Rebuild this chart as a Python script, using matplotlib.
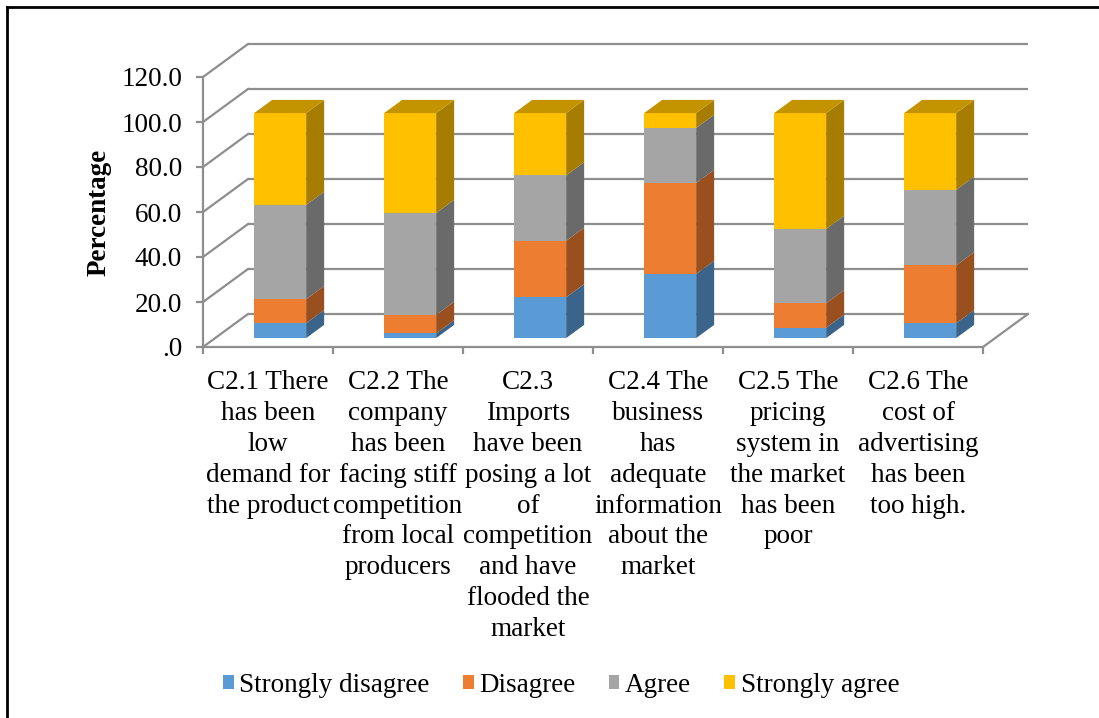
import numpy as np
import matplotlib
matplotlib.use("Agg")
import matplotlib.pyplot as plt
from matplotlib.patches import Polygon, Patch
from matplotlib.lines import Line2D

# ---- data -------------------------------------------------------------
categories = [
    "C2.1 There\nhas been\nlow\ndemand for\nthe product",
    "C2.2 The\ncompany\nhas been\nfacing stiff\ncompetition\nfrom local\nproducers",
    "C2.3\nImports\nhave been\nposing a lot\nof\ncompetition\nand have\nflooded the\nmarket",
    "C2.4 The\nbusiness\nhas\nadequate\ninformation\nabout the\nmarket",
    "C2.5 The\npricing\nsystem in\nthe market\nhas been\npoor",
    "C2.6 The\ncost of\nadvertising\nhas been\ntoo high.",
]
series_names = ["Strongly disagree", "Disagree", "Agree", "Strongly agree"]
strongly_disagree = [6.6, 2.1, 18.1, 28.5, 4.6, 6.6]
disagree = [10.7, 8.2, 25.1, 40.4, 10.9, 25.7]
agree = [41.9, 45.3, 29.1, 24.5, 33.0, 33.6]
strongly_agree = [40.8, 44.4, 27.7, 6.6, 51.5, 34.1]
y_ticks = [0, 20, 40, 60, 80, 100, 120]
y_tick_labels = [".0", "20.0", "40.0", "60.0", "80.0", "100.0", "120.0"]
y_label = "Percentage"

# ---- style ------------------------------------------------------------
front_colors = ["#5B9BD5", "#ED7D31", "#A5A5A5", "#FFC000"]
side_colors = ["#3A6489", "#9A4F1F", "#6A6A6A", "#A67D00"]
top_colors = ["#4A80B0", "#C2662A", "#8A8A8A", "#C49300"]
grid_color = "#8E8E8E"
grid_lw = 1.6
FS = 19.5

plt.rcParams["font.family"] = ["Liberation Serif", "DejaVu Serif"]

W, H = 1099, 718
fig = plt.figure(figsize=(W / 100, H / 100), dpi=100)
fig.patch.set_facecolor("white")

n = len(categories)
ax = fig.add_axes([203 / W, (H - 347) / H, 780 / W, 270 / H])
ax.set_xlim(0, n)
ax.set_ylim(0, 120)
ax.set_facecolor("none")

# oblique projection of the depth axis (category units, percent units)
DX = 45 / 130
DY = 33 / 2.25
ZF = 0.27   # depth of the bar front faces
ZD = 0.40   # depth of the bars
BW = 0.40   # bar width

# back wall gridlines and left wall diagonals
for t in y_ticks:
    ax.plot([DX, n + DX], [t + DY, t + DY], color=grid_color, lw=grid_lw,
            zorder=1, clip_on=False, solid_capstyle="butt")
    ax.plot([0, DX], [t, t + DY], color=grid_color, lw=grid_lw,
            zorder=1, clip_on=False)
# right edge of the floor
ax.plot([n, n + DX], [0, DY], color=grid_color, lw=grid_lw, zorder=1, clip_on=False)

# axes lines / ticks
for s in ["top", "right"]:
    ax.spines[s].set_visible(False)
for s in ["left", "bottom"]:
    ax.spines[s].set_color(grid_color)
    ax.spines[s].set_linewidth(grid_lw)
    ax.spines[s].set_zorder(1)
ax.set_yticks(y_ticks, y_tick_labels)
ax.set_xticks(np.arange(n + 1))
ax.set_xticklabels([])
ax.tick_params(axis="both", direction="out", length=5, width=grid_lw,
               color=grid_color, labelsize=FS, labelcolor="black")
ax.tick_params(axis="y", pad=10)

ax.set_ylabel(y_label, fontsize=FS, fontweight="bold")
ax.yaxis.set_label_coords(-0.1167, 0.5)

# stacked 3D-look columns
series = [strongly_disagree, disagree, agree, strongly_agree]
centers = np.arange(n) + 0.5
bottoms = np.zeros(n)
for k, vals in enumerate(series):
    vals = np.asarray(vals, dtype=float)
    ax.bar(centers + ZF * DX, vals, width=BW, bottom=bottoms + ZF * DY,
           color=front_colors[k], linewidth=0, zorder=3, clip_on=False)
    for i in range(n):
        xr = centers[i] + ZF * DX + BW / 2
        y0 = bottoms[i] + ZF * DY
        y1 = y0 + vals[i]
        side = Polygon([(xr, y0), (xr + ZD * DX, y0 + ZD * DY),
                        (xr + ZD * DX, y1 + ZD * DY), (xr, y1)],
                       closed=True, facecolor=side_colors[k], edgecolor="none",
                       zorder=3, clip_on=False)
        ax.add_patch(side)
        if k == len(series) - 1:
            xl = xr - BW
            top = Polygon([(xl, y1), (xr, y1), (xr + ZD * DX, y1 + ZD * DY),
                           (xl + ZD * DX, y1 + ZD * DY)],
                          closed=True, facecolor=top_colors[k], edgecolor="none",
                          zorder=3, clip_on=False)
            ax.add_patch(top)
    bottoms = bottoms + vals

# category labels under the floor
for i, label in enumerate(categories):
    ax.annotate(label, xy=(centers[i], 0), xycoords="data",
                xytext=(0, -16.8), textcoords="offset points",
                ha="center", va="top", fontsize=FS, linespacing=1.305,
                multialignment="center", annotation_clip=False)

# legend
handles = [Patch(facecolor=c, edgecolor="none") for c in front_colors]
fig.legend(handles, series_names, loc="center",
           bbox_to_anchor=(561 / W, 1 - 685 / H), ncol=4, frameon=False,
           fontsize=FS, handlelength=0.4, handleheight=0.4,
           handletextpad=0.2, columnspacing=1.23, borderpad=0)

# frame lines along the top and left of the picture
fig.add_artist(Line2D([7 / W, 7 / W], [0, 1 - 7 / H], color="black", lw=2.0,
                      transform=fig.transFigure))
fig.add_artist(Line2D([7 / W, 1], [1 - 7 / H, 1 - 7 / H], color="black", lw=2.0,
                      transform=fig.transFigure))

fig.savefig("out.png", dpi=100, facecolor="white")
